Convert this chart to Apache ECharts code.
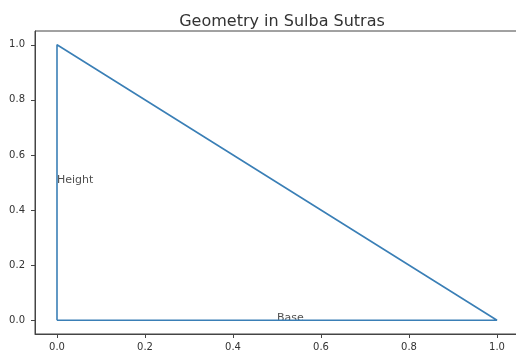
<!DOCTYPE html>
<html>
<head>
<meta charset="utf-8">
<script src="https://cdn.jsdelivr.net/npm/echarts@6/dist/echarts.min.js"></script>
<style>html,body{margin:0;padding:0;background:#fff;overflow:hidden;width:516px;height:356px}#c{width:522px;height:356px}</style>
</head>
<body>
<div id="c"></div>
<script>
var titleText = 'Geometry in Sulba Sutras';
var triangleX = [0, 1, 0, 0];
var triangleY = [0, 0, 1, 0];
var labelTexts = ['Height', 'Base'];
var labelX = [0, 0.5];
var labelY = [0.5, 0];
var tickValues = [0, 0.2, 0.4, 0.6, 0.8, 1.0];

var lineData = triangleX.map(function (x, i) { return [x, triangleY[i]]; });
var labelData = labelTexts.map(function (t, i) { return { value: [labelX[i], labelY[i]], name: t }; });

var FONT = 'DejaVu Sans';
function axisCommon(margin) {
  return {
    type: 'value', min: -0.05, max: 1.05,
    splitLine: { show: false },
    axisLine: { show: true, onZero: false, lineStyle: { color: '#444', width: 1 } },
    axisTick: { show: true, inside: false, length: 4, customValues: tickValues, lineStyle: { color: '#444' } },
    axisLabel: { customValues: tickValues, fontFamily: FONT, fontSize: 10, color: '#333', margin: margin,
      formatter: function (v) { return v.toFixed(1); } }
  };
}
var chart = echarts.init(document.getElementById('c'), null, { renderer: 'canvas' });
chart.setOption({
  animation: false,
  backgroundColor: '#fff',
  title: { text: titleText, left: 277, top: 9, textAlign: 'center',
    textStyle: { fontFamily: FONT, fontSize: 16, fontWeight: 'normal', color: '#333' } },
  grid: { left: 35, top: 31, width: 484, bottom: 22, show: true, borderColor: '#444', borderWidth: 1 },
  xAxis: axisCommon(8),
  yAxis: axisCommon(10),
  series: [
    { type: 'line', data: lineData, symbol: 'none', lineStyle: { color: '#3a7fb6', width: 1.6 } },
    { type: 'scatter', data: labelData, symbolSize: 0,
      label: { show: true, position: [0, 3], align: 'left', verticalAlign: 'bottom',
        formatter: function (p) { return p.name; },
        fontFamily: FONT, fontSize: 11, color: '#222' } }
  ]
});
</script>
</body>
</html>
